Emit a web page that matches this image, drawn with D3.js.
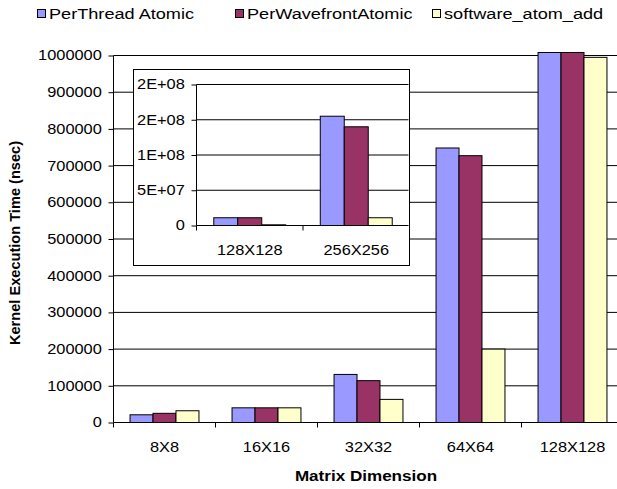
<!DOCTYPE html>
<html>
<head>
<meta charset="utf-8">
<script src="https://cdn.jsdelivr.net/npm/d3@7"></script>
<style>
  body { margin: 0; background: #fff; }
  text { font-family: "Liberation Sans", Arial, sans-serif; fill: #000; }
</style>
</head>
<body>
<svg id="chart" width="617" height="489"></svg>
<script>
// data
var series = ["PerThread Atomic", "PerWavefrontAtomic", "software_atom_add"];
var colors = ["#9999ff", "#993366", "#ffffcc"];

var dims = ["8X8", "16X16", "32X32", "64X64", "128X128"];
var perThread    = [21000, 40000, 131000, 748000, 11000000];
var perWavefront = [25000, 40000, 114000, 727000, 11000000];
var software     = [32000, 40000, 63000, 200000, 995000];

var insetDims = ["128X128", "256X256"];
var insetPerThread    = [11000000, 155000000];
var insetPerWavefront = [11000000, 140000000];
var insetSoftware     = [1000000, 11000000];
var insetTicks  = [0, 50000000, 100000000, 150000000, 200000000];
var insetLabels = ["0", "5E+07", "1E+08", "2E+08", "2E+08"];

// the original picture is a bit stretched sideways, so is its text
var SX = 1.17;

var svg = d3.select("#chart");

function rows(cats, a, b, c) {
    return cats.map(function (d, i) { return { cat: d, vals: [a[i], b[i], c[i]] }; });
}

// draws one clustered bar chart into g
function barChart(g, data, cats, x0Range, yRange, yMax, tickVals, tickFmt, gridRight) {
    var x0 = d3.scaleBand().domain(cats).range(x0Range).padding(0);
    var x1 = d3.scaleBand().domain(d3.range(3)).range([0, x0.bandwidth()])
        .paddingInner(0).paddingOuter(0.72);
    var y = d3.scaleLinear().domain([0, yMax]).range(yRange);
    var yCap = y(yMax) - 3;

    // gridlines
    g.selectAll("line.grid").data(tickVals.filter(function (t) { return t > 0; }))
        .enter().append("line")
        .attr("x1", x0Range[0]).attr("x2", gridRight)
        .attr("y1", function (d) { return y(d); })
        .attr("y2", function (d) { return y(d); })
        .attr("stroke", "#000").attr("stroke-width", 1);

    // bars
    var grp = g.selectAll("g.grp").data(data).enter().append("g")
        .attr("transform", function (d) { return "translate(" + x0(d.cat) + ",0)"; });
    grp.selectAll("rect").data(function (d) { return d.vals; })
        .enter().append("rect")
        .attr("x", function (d, i) { return x1(i); })
        .attr("y", function (d) { return Math.max(y(d), yCap); })
        .attr("width", x1.bandwidth())
        .attr("height", function (d) { return y(0) - Math.max(y(d), yCap); })
        .attr("fill", function (d, i) { return colors[i]; })
        .attr("stroke", "#000").attr("stroke-width", 1);

    // y axis
    var yAxis = d3.axisLeft(y).tickValues(tickVals).tickSize(5).tickPadding(5)
        .tickFormat(tickFmt);
    var ya = g.append("g").attr("transform", "translate(" + x0Range[0] + ",0)").call(yAxis);
    ya.select(".domain").attr("d", "M0," + y(yMax) + "V" + y(0));
    ya.selectAll("text").style("font-size", "14px")
        .attr("transform", "scale(" + SX + ",1)");

    // x axis: ticks on category boundaries
    var xa = g.append("g").attr("transform", "translate(0," + y(0) + ")");
    xa.append("line").attr("x1", x0Range[0]).attr("x2", gridRight).attr("stroke", "#000");
    xa.selectAll("line.t").data(cats.concat(["end"])).enter().append("line")
        .attr("x1", function (d) { return d === "end" ? x0Range[1] : x0(d); })
        .attr("x2", function (d) { return d === "end" ? x0Range[1] : x0(d); })
        .attr("y1", 0).attr("y2", 5).attr("stroke", "#000");
    xa.selectAll("text").data(cats).enter().append("text")
        .attr("transform", function (d) {
            return "translate(" + (x0(d) + x0.bandwidth() / 2) + ",29) scale(" + SX + ",1)";
        })
        .attr("text-anchor", "middle")
        .style("font-size", "14px").text(function (d) { return d; });
    g.selectAll(".tick line").attr("stroke", "#000");
    g.selectAll(".domain").attr("stroke", "#000");
}

// main chart
var main = svg.append("g");
barChart(main, rows(dims, perThread, perWavefront, software), dims,
    [113.5, 623.5], [422.5, 55.5], 1000000, d3.range(0, 1000001, 100000),
    d3.format("d"), 617);

// inset
var inset = svg.append("g");
inset.append("rect").attr("x", 133.5).attr("y", 69.5).attr("width", 276).attr("height", 196)
    .attr("fill", "#fff").attr("stroke", "#000");
barChart(inset, rows(insetDims, insetPerThread, insetPerWavefront, insetSoftware), insetDims,
    [196.5, 409.5], [225.5, 84.5], 200000000, insetTicks,
    function (d, i) { return insetLabels[i]; }, 408.5);

// axis titles
svg.append("text").attr("transform", "translate(366,481) scale(" + SX + ",1)")
    .attr("text-anchor", "middle")
    .style("font-size", "14.6px").style("font-weight", "bold").text("Matrix Dimension");
svg.append("text").attr("transform", "translate(20,243) rotate(-90)").attr("text-anchor", "middle")
    .style("font-size", "14.6px").style("font-weight", "bold").text("Kernel Execution Time (nsec)");

// legend
var legX = [37, 235, 432];
var leg = svg.selectAll("g.leg").data(series).enter().append("g")
    .attr("transform", function (d, i) { return "translate(" + legX[i] + ",9)"; });
leg.append("rect").attr("x", 0.5).attr("y", 0.5).attr("width", 8).attr("height", 8)
    .attr("fill", function (d, i) { return colors[i]; }).attr("stroke", "#000");
leg.append("text").attr("transform", "translate(12,10) scale(" + SX + ",1)")
    .style("font-size", "15.5px")
    .text(function (d) { return d; });
</script>
</body>
</html>
